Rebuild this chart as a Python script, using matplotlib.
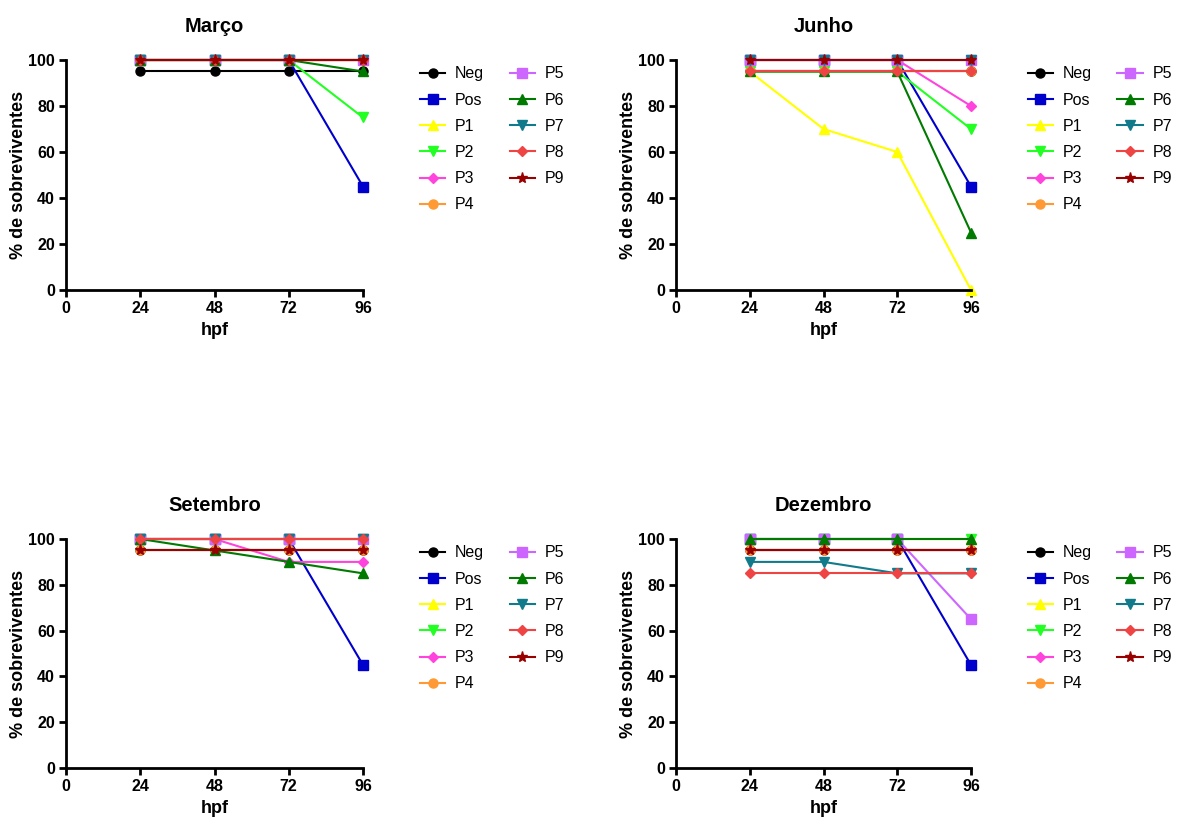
import matplotlib
matplotlib.use("Agg")
import matplotlib.pyplot as plt

plt.rcParams['font.family'] = ['Liberation Sans', 'DejaVu Sans']

hpf = [24, 48, 72, 96]
series = ["Neg", "Pos", "P1", "P2", "P3", "P4", "P5", "P6", "P7", "P8", "P9"]
colors = ["#000000", "#0000CC", "#FFFF00", "#22FF22", "#FF44DD", "#FF9933",
          "#CC66FF", "#007A00", "#117A8B", "#EE4444", "#990000"]
markers = ["o", "s", "^", "v", "D", "o", "s", "^", "v", "D", "*"]

marco = {
    "Neg": [95, 95, 95, 95], "Pos": [100, 100, 100, 45], "P1": [100, 100, 100, 100],
    "P2": [100, 100, 100, 75], "P3": [100, 100, 100, 100], "P4": [100, 100, 100, 100],
    "P5": [100, 100, 100, 100], "P6": [100, 100, 100, 95], "P7": [100, 100, 100, 100],
    "P8": [100, 100, 100, 100], "P9": [100, 100, 100, 100],
}
junho = {
    "Neg": [95, 95, 95, 95], "Pos": [100, 100, 100, 45], "P1": [95, 70, 60, 0],
    "P2": [95, 95, 95, 70], "P3": [100, 100, 100, 80], "P4": [95, 95, 95, 95],
    "P5": [100, 100, 100, 100], "P6": [95, 95, 95, 25], "P7": [100, 100, 100, 100],
    "P8": [95, 95, 95, 95], "P9": [100, 100, 100, 100],
}
setembro = {
    "Neg": [95, 95, 95, 95], "Pos": [100, 100, 100, 45], "P1": [100, 100, 100, 100],
    "P2": [100, 100, 100, 100], "P3": [100, 100, 90, 90], "P4": [95, 95, 95, 95],
    "P5": [100, 100, 100, 100], "P6": [100, 95, 90, 85], "P7": [100, 100, 100, 100],
    "P8": [100, 100, 100, 100], "P9": [95, 95, 95, 95],
}
dezembro = {
    "Neg": [95, 95, 95, 95], "Pos": [100, 100, 100, 45], "P1": [100, 100, 100, 100],
    "P2": [100, 100, 100, 100], "P3": [95, 95, 95, 95], "P4": [95, 95, 95, 95],
    "P5": [100, 100, 100, 65], "P6": [100, 100, 100, 100], "P7": [90, 90, 85, 85],
    "P8": [85, 85, 85, 85], "P9": [95, 95, 95, 95],
}
panels = [("Março", marco), ("Junho", junho), ("Setembro", setembro), ("Dezembro", dezembro)]

W, H = 1183, 823
fig = plt.figure(figsize=(W / 100, H / 100), dpi=100)

# pixel boxes (left, top, right, bottom)
boxes = [(66, 60, 363, 290), (676, 60, 971, 290), (66, 539, 363, 768), (676, 539, 971, 768)]

for (title, data), (l, t, r, b) in zip(panels, boxes):
    ax = fig.add_axes([l / W, 1 - b / H, (r - l) / W, (b - t) / H])
    for name, c, m in zip(series, colors, markers):
        ms = 8 if m == "*" else (5.5 if m == "D" else 6.5)
        ax.plot(hpf, data[name], color=c, marker=m, markersize=ms, lw=1.5,
                label=name, clip_on=False)
    ax.set_xlim(0, 96)
    ax.set_ylim(0, 100)
    ax.set_xticks([0, 24, 48, 72, 96])
    ax.set_yticks([0, 20, 40, 60, 80, 100])
    for s in ["top", "right"]:
        ax.spines[s].set_visible(False)
    for s in ["left", "bottom"]:
        ax.spines[s].set_linewidth(2)
    ax.tick_params(direction="out", length=5, width=2, labelsize=11.5, pad=3)
    for lab in ax.get_xticklabels() + ax.get_yticklabels():
        lab.set_fontweight("bold")
    ax.set_xlabel("hpf", fontsize=13, fontweight="bold", labelpad=4)
    ax.set_ylabel("% de sobreviventes", fontsize=13, fontweight="bold", labelpad=1)
    ax.set_title(title, fontsize=14.5, fontweight="bold", pad=20)
    ax.legend(ncol=2, frameon=False, loc="upper left", bbox_to_anchor=(1.17, 1.0),
              fontsize=11.5, labelspacing=0.7, handlelength=1.6, handletextpad=0.6,
              columnspacing=1.6, borderaxespad=0)

fig.savefig("out.png", dpi=100)
